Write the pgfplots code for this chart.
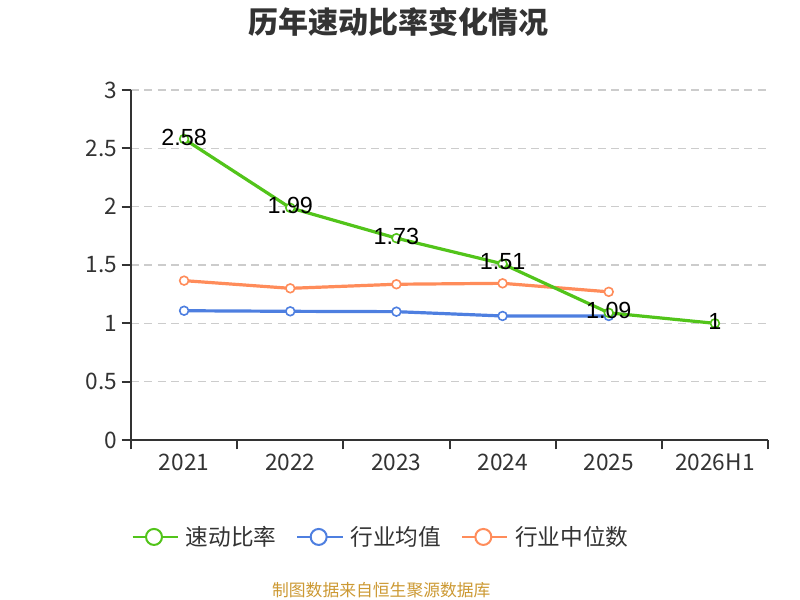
\documentclass[border=0pt]{standalone}
\usepackage{fontspec}
\setmainfont{Noto Sans CJK SC}
\newfontfamily\arial{Liberation Sans}
\usepackage{pgfplots}
\pgfplotsset{compat=1.18}
\definecolor{cgreen}{HTML}{52C41A}
\definecolor{cblue}{HTML}{4E7FE0}
\definecolor{corange}{HTML}{FF8C5A}
\definecolor{axisgray}{HTML}{333333}
\definecolor{gridgray}{HTML}{CCCCCC}
\definecolor{srcgold}{HTML}{CC9933}
\begin{document}
\begin{tikzpicture}[x=1pt,y=1pt]
\path[use as bounding box] (0,0) rectangle (600,450);
\node[font=\bfseries\fontsize{22.5}{22.5}\selectfont, text=axisgray] at (299,433.5) {历年速动比率变化情况};
\node[font=\fontsize{12.6}{12.6}\selectfont, text=srcgold] at (286,7.5) {制图数据来自恒生聚源数据库};
\begin{axis}[
  scale only axis, width=477.75pt, height=262.5pt,
  at={(98.25pt,120pt)}, anchor=south west,
  xmin=-0.5, xmax=5.5, ymin=0, ymax=3,
  axis x line*=bottom, axis y line*=left,
  axis line style={draw=axisgray, line width=1.5pt},
  xtick={-0.5,0.5,1.5,2.5,3.5,4.5,5.5},
  x tick label as interval,
  xticklabels={2021,2022,2023,2024,2025,2026H1},
  ytick={0,0.5,1,1.5,2,2.5,3},
  yticklabels={0,0.5,1,1.5,2,2.5,3},
  tick align=outside, major tick length=7pt,
  tick style={draw=axisgray, line width=1.5pt},
  tick label style={font=\fontsize{17}{17}\selectfont, text=axisgray},
  ymajorgrids,
  grid style={draw=gridgray, line width=1pt, dash pattern=on 6pt off 4pt},
  clip=false,
  legend style={at={(axis description cs:0.393,-0.277)}, anchor=center, draw=none,
    legend columns=3, font=\fontsize{17}{17}\selectfont, text=axisgray,
    /tikz/every odd column/.append style={column sep=3pt},
    /tikz/every even column/.append style={column sep=13pt}},
  legend image code/.code={\draw[#1,line width=1.5pt] (0pt,0pt) -- (34pt,0pt);
    \draw[#1,line width=1.5pt,fill=white] (16pt,0pt) circle (6pt);},
]
\addlegendimage{cgreen}\addlegendentry{速动比率}
\addlegendimage{cblue}\addlegendentry{行业均值}
\addlegendimage{corange}\addlegendentry{行业中位数}

\addplot[forget plot, cblue, line width=2.4pt, mark=*, mark size=3.3pt,
  mark options={fill=white, draw=cblue, line width=1.2pt}]
  coordinates {(0,1.108) (1,1.103) (2,1.10) (3,1.063) (4,1.063)};
\addplot[forget plot, corange, line width=2.4pt, mark=*, mark size=3.3pt,
  mark options={fill=white, draw=corange, line width=1.2pt}]
  coordinates {(0,1.366) (1,1.30) (2,1.335) (3,1.343) (4,1.27)};
\addplot[forget plot, cgreen, line width=2.4pt, mark=*, mark size=3.3pt,
  mark options={fill=white, draw=cgreen, line width=1.2pt},
  nodes near coords, point meta=explicit symbolic,
  nodes near coords style={anchor=center, yshift=1.5pt, font=\arial\fontsize{17.5}{17.5}\selectfont, text=black}]
  coordinates {(0,2.58)[2.58] (1,1.99)[1.99] (2,1.73)[1.73] (3,1.51)[1.51] (4,1.09)[1.09] (5,1.00)[1]};
\end{axis}
\end{tikzpicture}
\end{document}
